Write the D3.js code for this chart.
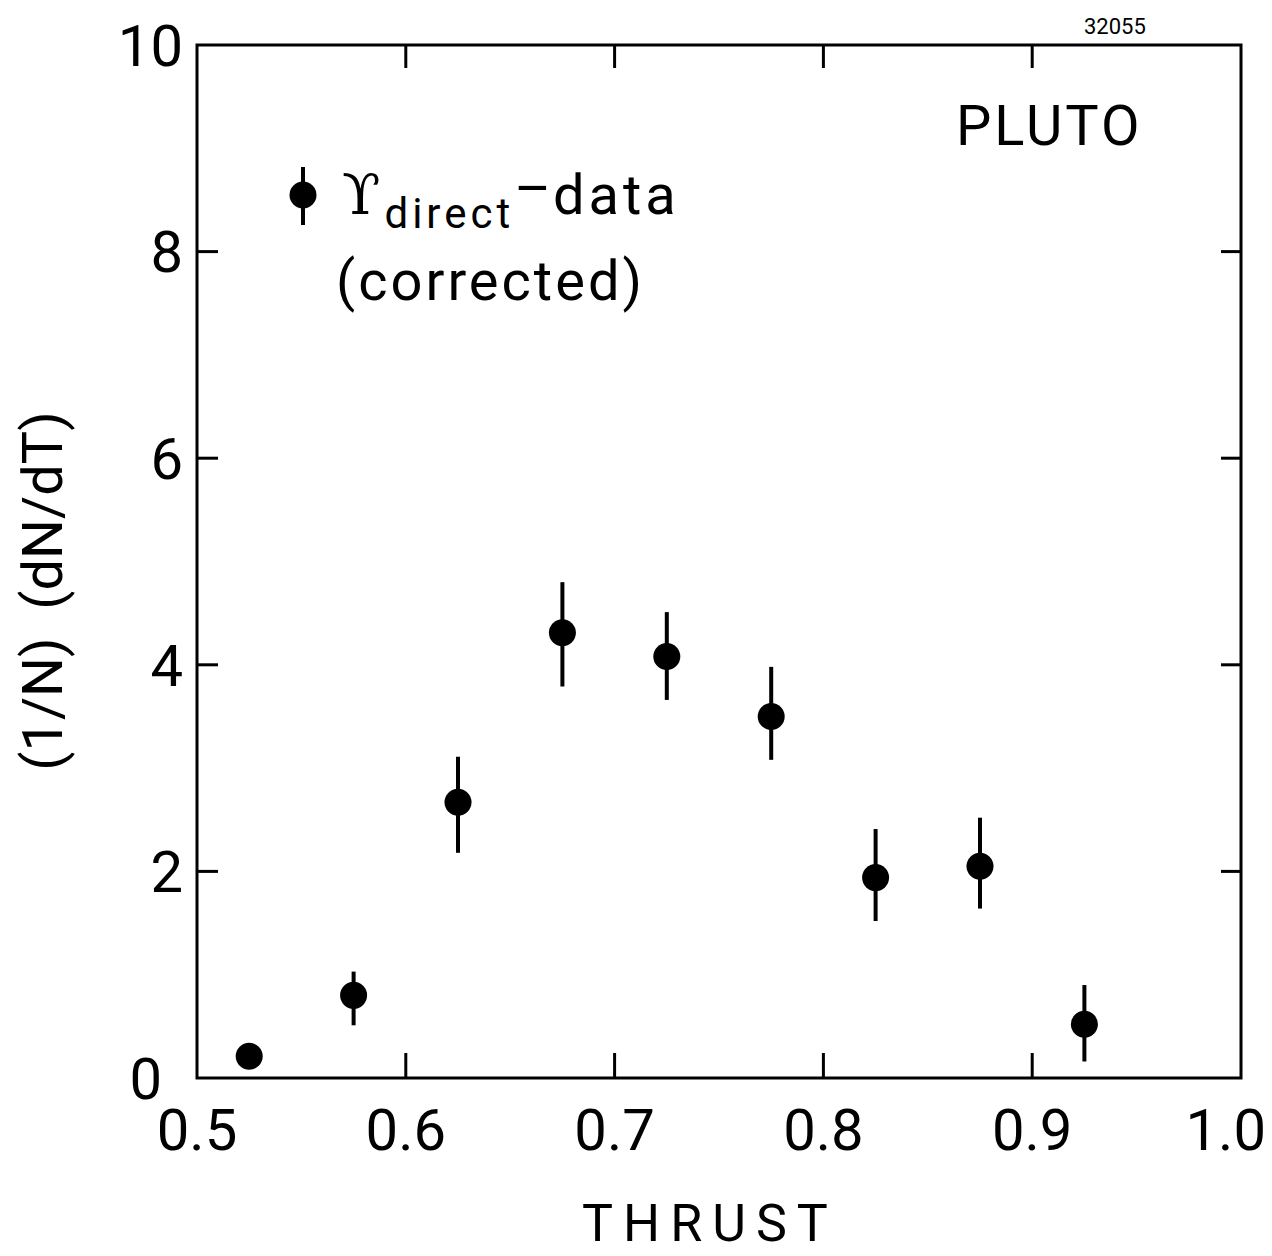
<!DOCTYPE html>
<html>
<head>
<meta charset="utf-8">
<script src="https://cdn.jsdelivr.net/npm/d3@7"></script>
<style>
  body { margin: 0; background: #fff; }
  text { font-family: Roboto, "DejaVu Sans", sans-serif; fill: #000; }
</style>
</head>
<body>
<svg id="chart"></svg>
<script>
// thrust bin centres and the corrected direct-upsilon distribution
var thrust = [0.525, 0.575, 0.625, 0.675, 0.725, 0.775, 0.825, 0.875, 0.925];
var values = [0.21, 0.80, 2.67, 4.31, 4.08, 3.50, 1.94, 2.05, 0.52];
var errHigh = [0.21, 1.03, 3.11, 4.80, 4.51, 3.98, 2.41, 2.52, 0.90];
var errLow = [0.21, 0.51, 2.18, 3.79, 3.66, 3.08, 1.52, 1.64, 0.16];

var xTicks = [0.5, 0.6, 0.7, 0.8, 0.9, 1.0];
var xTickLabels = ["0.5", "0.6", "0.7", "0.8", "0.9", "1.0"];
var yTicks = [0, 2, 4, 6, 8, 10];

var screen = {width: 1272, height: 1256};
var frame = {left: 197, right: 1241, top: 45, bottom: 1078};

var svg = d3.select("#chart")
    .attr("width", screen.width)
    .attr("height", screen.height);

var xscale = d3.scaleLinear().domain([0.5, 1.0]).range([frame.left, frame.right]);
var yscale = d3.scaleLinear().domain([0, 10]).range([frame.bottom, frame.top]);

var points = thrust.map(function(t, i) {
    return {x: t, y: values[i], hi: errHigh[i], lo: errLow[i]};
});

// frame box
svg.append("rect")
    .attr("x", frame.left)
    .attr("y", frame.top)
    .attr("width", frame.right - frame.left)
    .attr("height", frame.bottom - frame.top)
    .attr("fill", "none")
    .attr("stroke", "#000")
    .attr("stroke-width", 3);

// inward ticks, all four sides
var inner = function(d) { return d > 0.5 && d < 1.0; };
var innerY = function(d) { return d > 0 && d < 10; };

svg.append("g").selectAll("line")
    .data(xTicks.filter(inner))
    .enter().append("line")
    .attr("x1", function(d) { return xscale(d); })
    .attr("x2", function(d) { return xscale(d); })
    .attr("y1", frame.bottom)
    .attr("y2", frame.bottom - 25)
    .attr("stroke", "#000").attr("stroke-width", 3);

svg.append("g").selectAll("line")
    .data(xTicks.filter(inner))
    .enter().append("line")
    .attr("x1", function(d) { return xscale(d); })
    .attr("x2", function(d) { return xscale(d); })
    .attr("y1", frame.top)
    .attr("y2", frame.top + 23)
    .attr("stroke", "#000").attr("stroke-width", 3);

svg.append("g").selectAll("line")
    .data(yTicks.filter(innerY))
    .enter().append("line")
    .attr("x1", frame.left)
    .attr("x2", frame.left + 21)
    .attr("y1", function(d) { return yscale(d); })
    .attr("y2", function(d) { return yscale(d); })
    .attr("stroke", "#000").attr("stroke-width", 3);

svg.append("g").selectAll("line")
    .data(yTicks.filter(innerY))
    .enter().append("line")
    .attr("x1", frame.right)
    .attr("x2", frame.right - 20)
    .attr("y1", function(d) { return yscale(d); })
    .attr("y2", function(d) { return yscale(d); })
    .attr("stroke", "#000").attr("stroke-width", 3);

// tick labels (last one pulled in so it stays on the page)
svg.append("g").selectAll("text")
    .data(xTicks)
    .enter().append("text")
    .attr("x", function(d) { return d < 1.0 ? xscale(d) : screen.width - 6; })
    .attr("y", 1150)
    .attr("text-anchor", function(d) { return d < 1.0 ? "middle" : "end"; })
    .style("font-size", "58px")
    .text(function(d, i) { return xTickLabels[i]; });

svg.append("g").selectAll("text")
    .data(yTicks)
    .enter().append("text")
    .attr("x", function(d) { return d == 0 ? 162 : 183; })
    .attr("y", function(d) { return yscale(d); })
    .attr("dy", "0.36em")
    .attr("text-anchor", "end")
    .style("font-size", "58px")
    .text(function(d) { return d; });

// axis titles
svg.append("text")
    .attr("x", 710)
    .attr("y", 1241)
    .attr("text-anchor", "middle")
    .style("font-size", "52px")
    .style("letter-spacing", "10px")
    .text("THRUST");

svg.append("text")
    .attr("transform", "translate(62,591) rotate(-90)")
    .attr("text-anchor", "middle")
    .style("font-size", "56px")
    .attr("xml:space", "preserve")
    .text("(1/N)  (dN/dT)");

// error bars and points
var marks = svg.append("g");

marks.selectAll("line")
    .data(points)
    .enter().append("line")
    .attr("x1", function(d) { return xscale(d.x); })
    .attr("x2", function(d) { return xscale(d.x); })
    .attr("y1", function(d) { return yscale(d.hi); })
    .attr("y2", function(d) { return yscale(d.lo); })
    .attr("stroke", "#000")
    .attr("stroke-width", 4);

marks.selectAll("circle")
    .data(points)
    .enter().append("circle")
    .attr("cx", function(d) { return xscale(d.x); })
    .attr("cy", function(d) { return yscale(d.y); })
    .attr("r", 13.5)
    .attr("fill", "#000");

// legend
svg.append("line")
    .attr("x1", 303).attr("x2", 303)
    .attr("y1", 167).attr("y2", 225)
    .attr("stroke", "#000").attr("stroke-width", 4);
svg.append("circle")
    .attr("cx", 303).attr("cy", 195).attr("r", 13.5)
    .attr("fill", "#000");

var leg = svg.append("text")
    .attr("x", 342)
    .attr("y", 214)
    .style("font-size", "56px");
leg.append("tspan")
    .style("font-family", "'DejaVu Serif', serif")
    .text("\u03D2");
leg.append("tspan")
    .attr("dx", 4)
    .attr("dy", 14)
    .style("font-size", "42px")
    .style("letter-spacing", "4px")
    .text("direct");
leg.append("tspan")
    .attr("dy", -20)
    .style("font-size", "56px")
    .text("\u2013");
leg.append("tspan")
    .attr("dx", 2)
    .attr("dy", 6)
    .style("letter-spacing", "4px")
    .text("data");

svg.append("text")
    .attr("x", 336)
    .attr("y", 300)
    .style("font-size", "56px")
    .style("letter-spacing", "3px")
    .text("(corrected)");

svg.append("text")
    .attr("x", 956)
    .attr("y", 145)
    .style("font-size", "56px")
    .style("letter-spacing", "3px")
    .text("PLUTO");

svg.append("text")
    .attr("x", 1084)
    .attr("y", 34)
    .style("font-size", "22px")
    .text("32055");
</script>
</body>
</html>
